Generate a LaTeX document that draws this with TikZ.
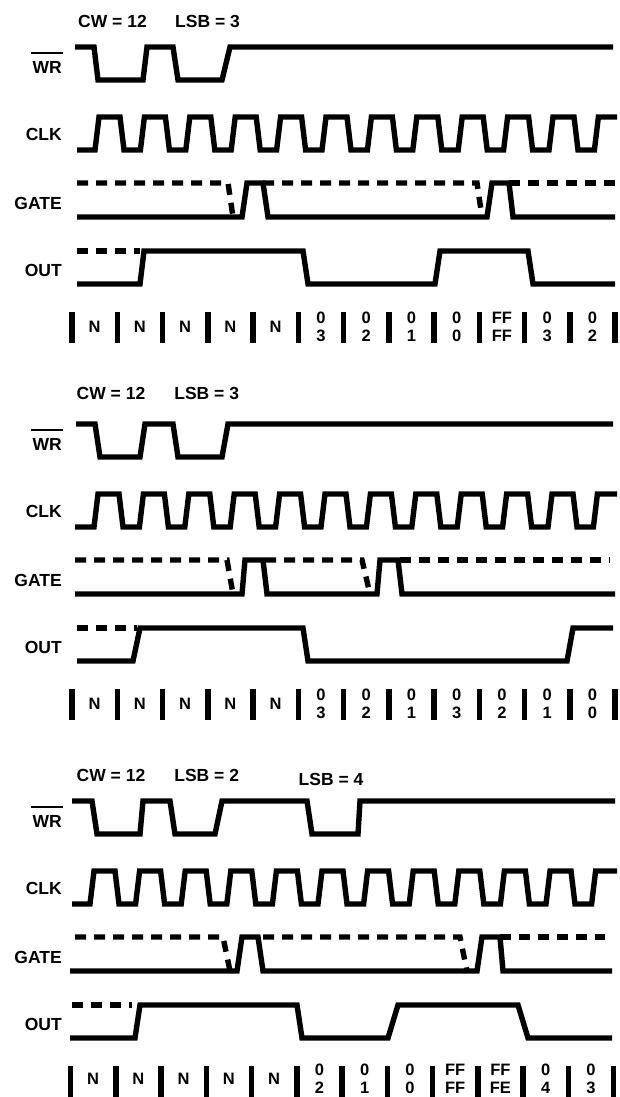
\documentclass[tikz,border=0pt]{standalone}
\usepackage{fontspec}
\setmainfont{Liberation Sans}
\usepackage{tikz}
\tikzset{
  sig/.style={line width=5.4pt},
  ghost/.style={line width=5.4pt,dash pattern=on 11pt off 8pt},
  lbl/.style={anchor=east,inner sep=0pt,font=\bfseries\fontsize{17.5}{18}\selectfont},
  ttl/.style={inner sep=0pt,font=\bfseries\fontsize{17.5}{18}\selectfont},
  cell/.style={inner sep=0pt,align=center,font=\bfseries\fontsize{16.5}{18}\selectfont}
}

\begin{document}
\begin{tikzpicture}[x=1pt,y=-1pt]
\useasboundingbox (0,0) rectangle (619,1097);
\foreach \p/\dy/\tz/\per/\xs/\bx in {1/0/95/45.4/77/72, 2/377/94/45.4/75/72, 3/754/90/45.6/72/70.5}{
  \begin{scope}[shift={(0,\dy)}]
  \node[lbl] (wr\p) at (62,67.5) {WR};
  \draw[line width=2.2pt] ([xshift=-1pt,yshift=8pt]wr\p.north west) -- ([xshift=1pt,yshift=8pt]wr\p.north east);
  \node[lbl] (clk\p) at (62,134) {CLK};
  \node[lbl] (gate\p) at (62,203) {GATE};
  \node[lbl] (out\p) at (62,270.5) {OUT};
  \draw[sig] (\xs,150) \foreach \k in {0,...,10}{
      -- ({\tz+\k*\per},150) -- ({\tz+\k*\per+4},117) -- ({\tz+\k*\per+25},117) -- ({\tz+\k*\per+29},150)}
    -- ({\tz+11*\per},150) -- ({\tz+11*\per+4},117) -- (617,117);
  \foreach \i in {0,...,12}
    \draw[line width=5.5pt] ({\bx+45.25*\i},311.7) -- ++(0,31);
  \end{scope}
}

% first run
\node[ttl] (cw1) at (112.5,21) {CW = 12};
\node[ttl] (lsb1) at (207.5,21) {LSB = 3};
\draw[sig] (75,47) -- (94,47) -- (98,80) -- (143,80) -- (147,47) -- (173,47) -- (178,80) -- (222,80) -- (230,47) -- (613,47);
\draw[ghost] (77,183) -- (228,183) -- (233,217);
\draw[ghost] (263,183) -- (477,183) -- (482,217);
\draw[ghost] (509,183) -- (615,183);
\draw[sig] (77,217) -- (242,217) -- (247,183) -- (263,183) -- (268,217) -- (487,217) -- (492,183) -- (509,183) -- (513,217) -- (615,217);
\draw[ghost] (77,251) -- (140,251);
\draw[sig] (77,284) -- (140,284) -- (144,251) -- (303,251) -- (308,284) -- (435,284) -- (440,251) -- (528,251) -- (533,284) -- (615,284);
\foreach \c [count=\i from 0] in {N,N,N,N,N,{0\\3},{0\\2},{0\\1},{0\\0},{FF\\FF},{0\\3},{0\\2}}
  \node[cell] (v1-\i) at ({94.6+45.25*\i},327) {\c};

% second run
\begin{scope}[shift={(0,377)}]
\node[ttl] (cw2) at (111,16) {CW = 12};
\node[ttl] (lsb2) at (206.7,16) {LSB = 3};
\draw[sig] (76,47) -- (95,47) -- (100,80) -- (140,80) -- (145,47) -- (173,47) -- (178,80) -- (222,80) -- (228,47) -- (613,47);
\draw[ghost] (75,183) -- (227,183) -- (233,217);
\draw[ghost] (265,183) -- (362,183) -- (370,217);
\draw[ghost] (400,183) -- (610,183);
\draw[sig] (75,217) -- (242,217) -- (245,183) -- (263,183) -- (267,217) -- (377,217) -- (380,183) -- (398,183) -- (402,217) -- (615,217);
\draw[ghost] (77,251) -- (137,251);
\draw[sig] (77,284) -- (133,284) -- (140,251) -- (303,251) -- (308,284) -- (567,284) -- (573,251) -- (613,251);
\foreach \c [count=\i from 0] in {N,N,N,N,N,{0\\3},{0\\2},{0\\1},{0\\3},{0\\2},{0\\1},{0\\0}}
  \node[cell] (v2-\i) at ({94.6+45.25*\i},327) {\c};
\end{scope}

% third run
\begin{scope}[shift={(0,754)}]
\node[ttl] (cw3) at (111,21) {CW = 12};
\node[ttl] (lsb3) at (206.7,21) {LSB = 2};
\node[ttl] (lsb3b) at (331,25) {LSB = 4};
\draw[sig] (72,47) -- (92,47) -- (97,80) -- (140,80) -- (143,47) -- (170,47) -- (175,80) -- (215,80) -- (222,47) -- (307,47) -- (312,80) -- (358,80) -- (360,47) -- (615,47);
\draw[ghost] (75,183) -- (223,183) -- (230,217);
\draw[ghost] (263,183) -- (460,183) -- (467,217);
\draw[ghost] (500,183) -- (605,183);
\draw[sig] (70,217) -- (237,217) -- (242,183) -- (258,183) -- (263,217) -- (477,217) -- (482,183) -- (500,183) -- (503,217) -- (612,217);
\draw[ghost] (72,251) -- (132,251);
\draw[sig] (70,284) -- (135,284) -- (140,251) -- (297,251) -- (302,284) -- (388,284) -- (398,251) -- (518,251) -- (528,284) -- (612,284);
\foreach \c [count=\i from 0] in {N,N,N,N,N,{0\\2},{0\\1},{0\\0},{FF\\FF},{FF\\FE},{0\\4},{0\\3}}
  \node[cell] (v3-\i) at ({93.1+45.25*\i},324.5) {\c};
\end{scope}
\end{tikzpicture}
\end{document}
